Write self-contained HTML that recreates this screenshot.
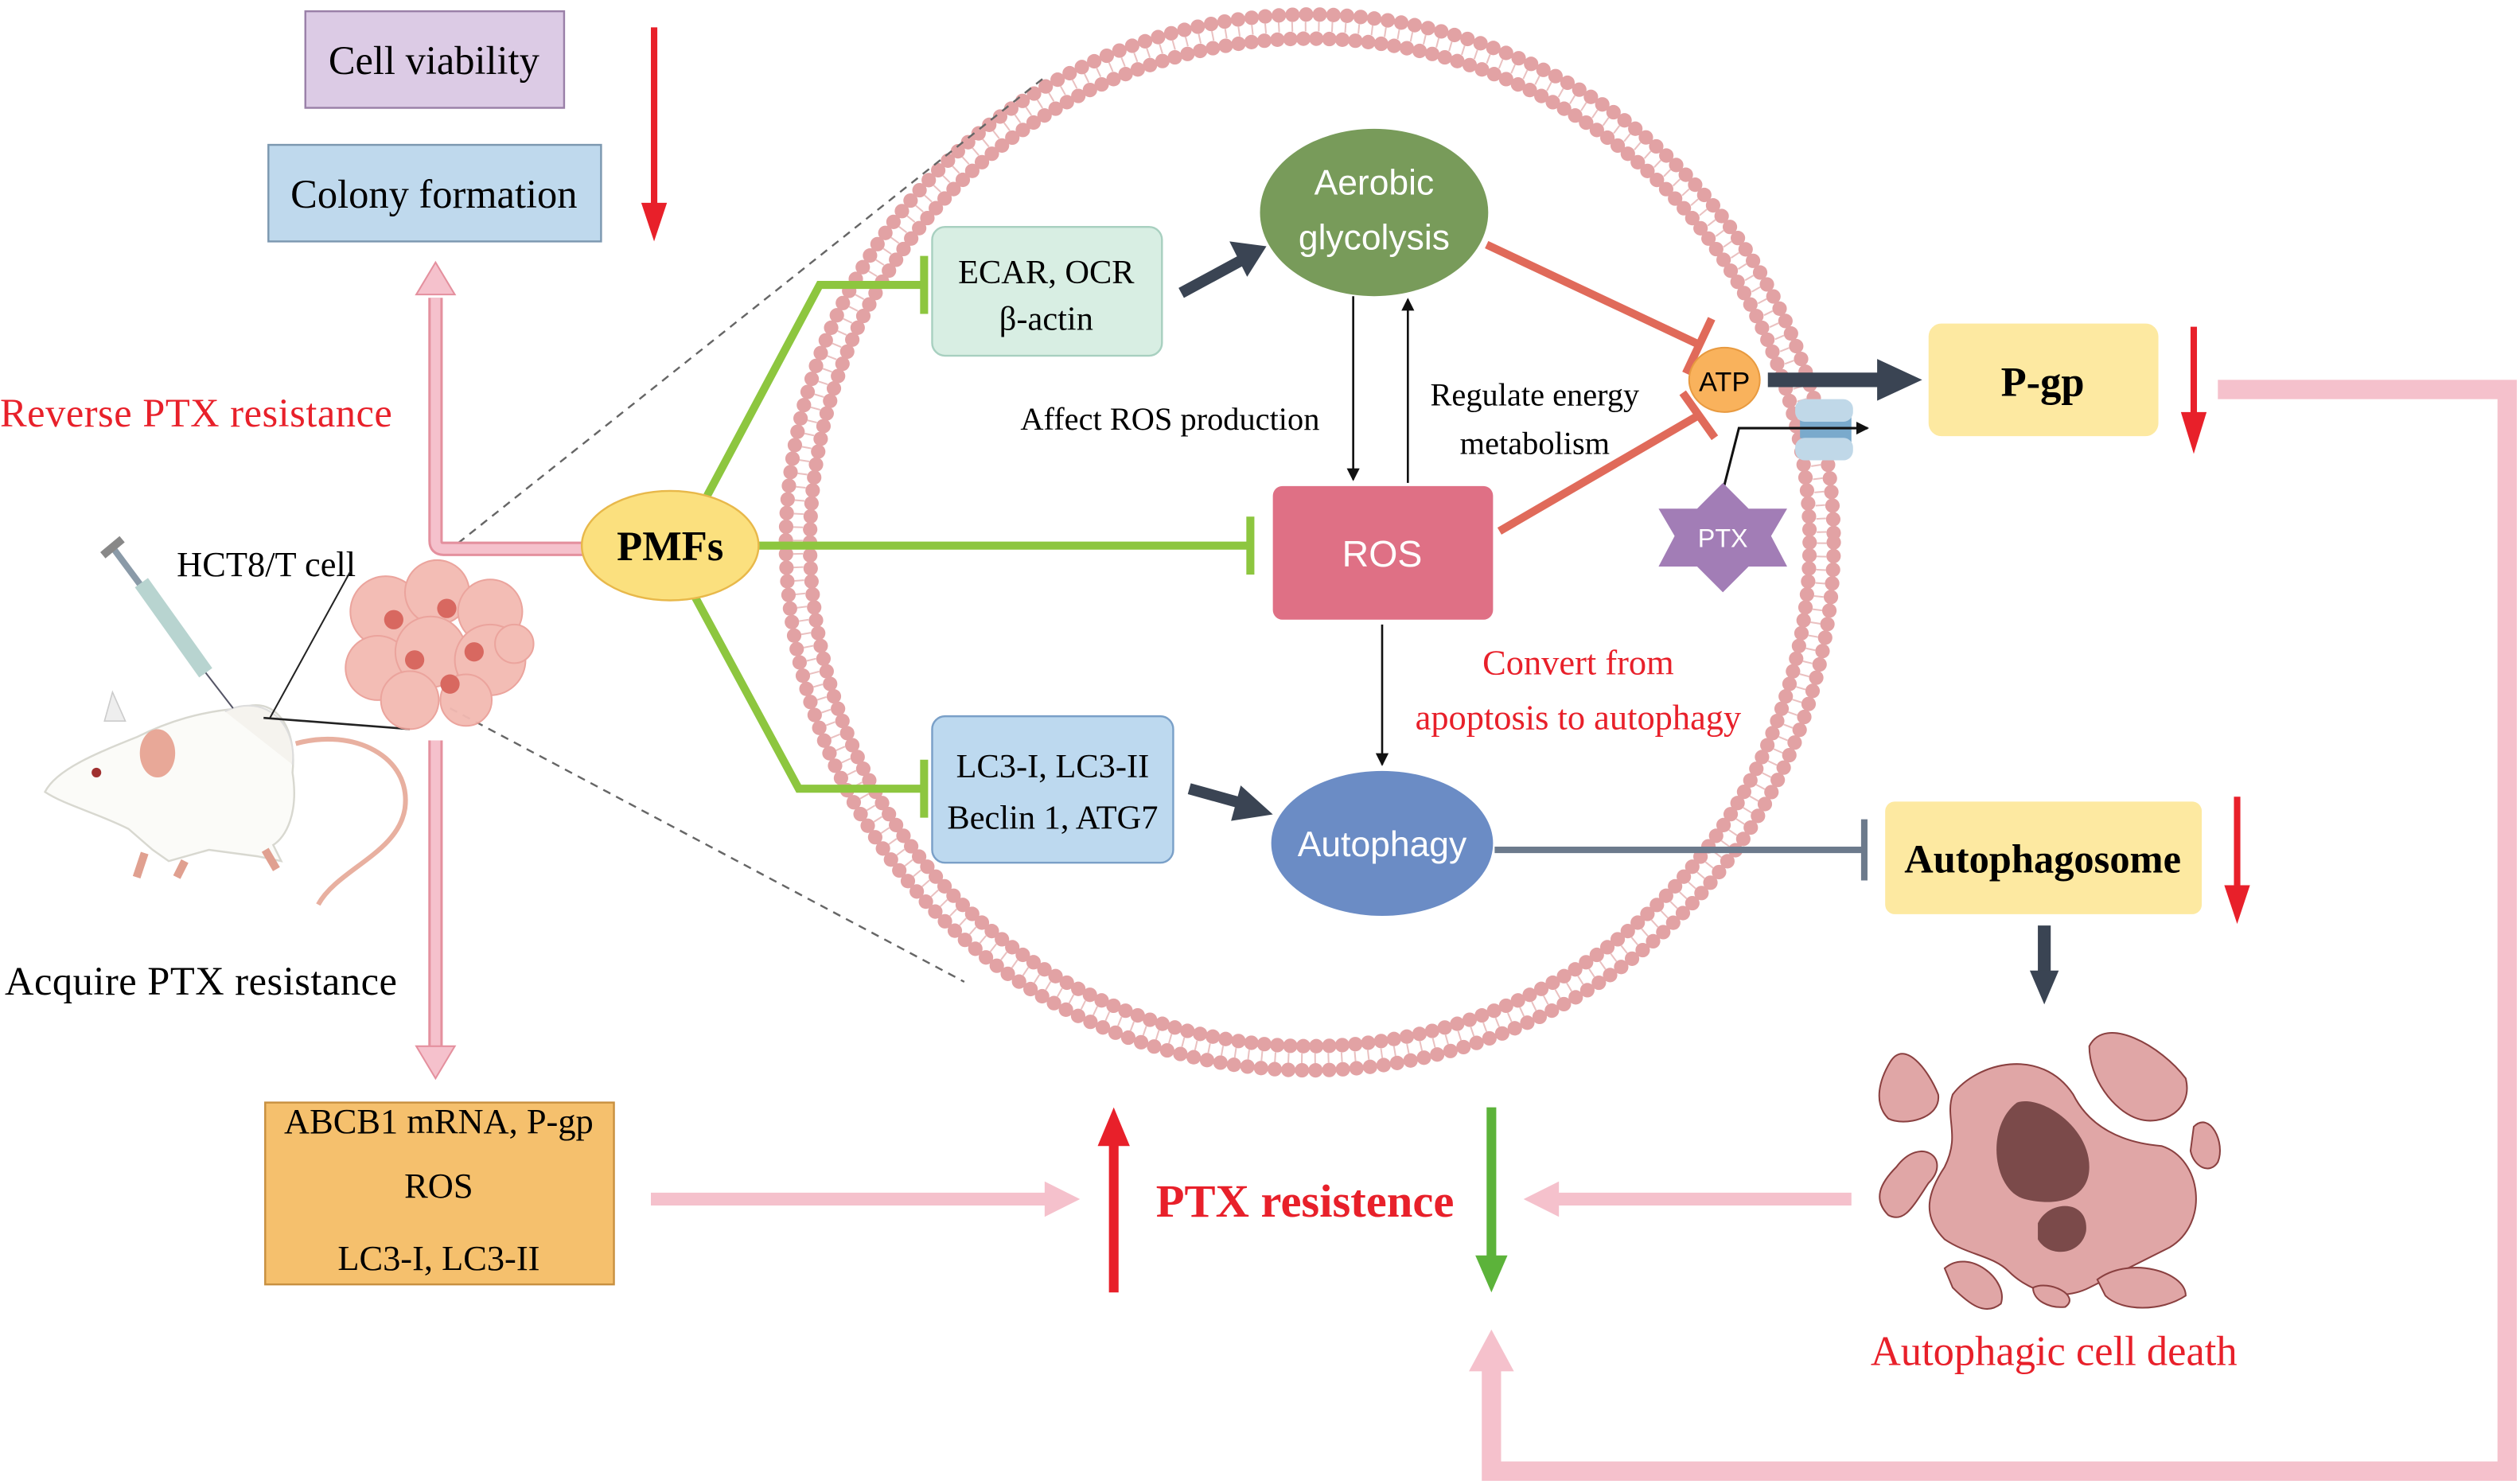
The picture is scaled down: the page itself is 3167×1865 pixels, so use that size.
<!DOCTYPE html>
<html><head><meta charset="utf-8"><style>
html,body{margin:0;padding:0;background:#fff}
svg{display:block}
text{font-family:"Liberation Serif",serif}
.s{font-family:"Liberation Sans",sans-serif}
</style></head><body>
<svg width="3167" height="1865" viewBox="0 0 1568 922" preserveAspectRatio="none" xmlns="http://www.w3.org/2000/svg">
<defs>
<marker id="ab" markerWidth="8" markerHeight="8" refX="7" refY="4" orient="auto" markerUnits="userSpaceOnUse"><path d="M0,0 L8,4 L0,8 Z" fill="#111"/></marker>
</defs>
<rect width="1568" height="922" fill="#fff"/>

<!-- membrane -->
<ellipse cx="815" cy="337" rx="326" ry="328" fill="none" stroke="#e2a2a4" stroke-width="9" stroke-dasharray="0 8.5" stroke-linecap="round"/>
<ellipse cx="815" cy="337" rx="311" ry="313" fill="none" stroke="#e2a2a4" stroke-width="9" stroke-dasharray="0 8.1" stroke-linecap="round"/>
<ellipse cx="815" cy="337" rx="318.5" ry="320.5" fill="none" stroke="#eac0c0" stroke-width="6" stroke-dasharray="1 7.3"/>

<!-- dashed zoom lines -->
<line x1="278" y1="343" x2="650" y2="48" stroke="#666" stroke-width="1.2" stroke-dasharray="5 4"/>
<line x1="280" y1="440" x2="600" y2="610" stroke="#666" stroke-width="1.2" stroke-dasharray="5 4"/>

<!-- top left boxes -->
<rect x="190" y="7" width="161" height="60" fill="#dccbe5" stroke="#9a80a8" stroke-width="1.2"/>
<text x="270" y="46" font-size="25" text-anchor="middle">Cell viability</text>
<rect x="167" y="90" width="207" height="60" fill="#bfd9ed" stroke="#7c98b0" stroke-width="1.2"/>
<text x="270" y="129" font-size="25" text-anchor="middle">Colony formation</text>
<line x1="407" y1="17" x2="407" y2="130" stroke="#e8202a" stroke-width="4"/>
<path d="M399,126 L415,126 L407,150 Z" fill="#e8202a"/>

<!-- pink L arrow up -->
<path d="M271,185 L271,336 Q271,341 276,341 L366,341" fill="none" stroke="#e4909e" stroke-width="9"/>
<path d="M271,185 L271,336 Q271,341 276,341 L366,341" fill="none" stroke="#f5c1cc" stroke-width="6"/>
<path d="M259,183 L283,183 L271,163 Z" fill="#f5c1cc" stroke="#e4909e" stroke-width="1"/>
<text x="0" y="265" font-size="25" fill="#e8202a" textLength="244">Reverse PTX resistance</text>

<!-- mouse -->
<path d="M184,462 C220,452 256,470 252,502 C248,530 210,540 198,562" fill="none" stroke="#e8b0a0" stroke-width="3"/>
<path d="M150,440 C170,432 185,450 182,480 C186,505 178,520 170,525 L175,535 L160,532 L130,528 L105,535 L95,528 L80,515 C60,505 40,500 28,492 C35,478 60,468 85,458 C105,448 125,442 150,440 Z" fill="#fbfbf8" stroke="#d8d8d0" stroke-width="1.2"/>
<path d="M140,442 C165,430 185,450 182,475" fill="#f5f3ee" stroke="#ddd"/>
<ellipse cx="98" cy="468" rx="11" ry="15" fill="#e8a898"/>
<path d="M65,448 L70,430 L78,448 Z" fill="#eee" stroke="#ccc" stroke-width="0.8"/>
<circle cx="60" cy="480" r="3" fill="#a03030"/>
<path d="M90,530 L85,545 M115,535 L110,545 M165,528 L172,540" stroke="#e0a090" stroke-width="5"/>
<text x="110" y="358" font-size="22">HCT8/T cell</text>
<path d="M70,340 L128,418" stroke="#8a9aa8" stroke-width="4"/>
<path d="M88,362 L128,418" stroke="#b8d4d0" stroke-width="10"/>
<path d="M64,345 L76,335" stroke="#888" stroke-width="5"/>
<line x1="128" y1="418" x2="145" y2="440" stroke="#556" stroke-width="1"/>
<line x1="168" y1="446" x2="218" y2="355" stroke="#222" stroke-width="1"/>
<line x1="164" y1="446" x2="255" y2="453" stroke="#222" stroke-width="1.3"/>
<!-- tumor -->
<g fill="#f3bab2" stroke="#eaa098" stroke-width="1" opacity="0.95">
<circle cx="240" cy="380" r="22"/><circle cx="272" cy="368" r="20"/><circle cx="305" cy="380" r="20"/>
<circle cx="235" cy="415" r="20"/><circle cx="268" cy="405" r="22"/><circle cx="305" cy="410" r="22"/><circle cx="255" cy="435" r="18"/><circle cx="290" cy="435" r="16"/><circle cx="320" cy="400" r="12"/>
</g>
<g fill="#d86860"><circle cx="245" cy="385" r="6"/><circle cx="278" cy="378" r="6"/><circle cx="258" cy="410" r="6"/><circle cx="295" cy="405" r="6"/><circle cx="280" cy="425" r="6"/></g>

<text x="3" y="618" font-size="25" textLength="244">Acquire PTX resistance</text>

<!-- pink down arrow -->
<line x1="271" y1="460" x2="271" y2="652" stroke="#e4909e" stroke-width="9"/>
<line x1="271" y1="460" x2="271" y2="652" stroke="#f5c1cc" stroke-width="6"/>
<path d="M259,650 L283,650 L271,670 Z" fill="#f5c1cc" stroke="#e4909e" stroke-width="1"/>

<!-- ABCB1 box -->
<rect x="165" y="685" width="217" height="113" fill="#f5c06d" stroke="#c89040" stroke-width="1.2"/>
<text x="273" y="704" font-size="22" text-anchor="middle">ABCB1 mRNA, P-gp</text>
<text x="273" y="744" font-size="22" text-anchor="middle">ROS</text>
<text x="273" y="789" font-size="22" text-anchor="middle">LC3-I, LC3-II</text>

<!-- bottom pink arrows -->
<line x1="405" y1="745" x2="652" y2="745" stroke="#f5c1cc" stroke-width="8"/>
<path d="M650,734 L672,745 L650,756 Z" fill="#f5c1cc"/>
<line x1="1152" y1="745" x2="968" y2="745" stroke="#f5c1cc" stroke-width="8"/>
<path d="M970,734 L948,745 L970,756 Z" fill="#f5c1cc"/>
<line x1="693" y1="803" x2="693" y2="710" stroke="#e8202a" stroke-width="6"/>
<path d="M683,712 L703,712 L693,688 Z" fill="#e8202a"/>
<text x="812" y="756" font-size="29" font-weight="bold" fill="#e8202a" text-anchor="middle">PTX resistence</text>
<line x1="928" y1="688" x2="928" y2="782" stroke="#5cb33a" stroke-width="6"/>
<path d="M918,780 L938,780 L928,803 Z" fill="#5cb33a"/>

<!-- big loop -->
<path d="M1380,242 L1560,242 L1560,914 L928,914 L928,850" fill="none" stroke="#f5c1cc" stroke-width="12"/>
<path d="M914,852 L942,852 L928,826 Z" fill="#f5c1cc"/>

<!-- PMFs green -->
<g stroke="#8dc63f" stroke-width="5" fill="none">
<polyline points="440,308 510,177 575,177"/>
<line x1="575" y1="159" x2="575" y2="195"/>
<line x1="470" y1="339" x2="778" y2="339"/>
<line x1="778" y1="321" x2="778" y2="357"/>
<polyline points="432,370 497,490 575,490"/>
<line x1="575" y1="472" x2="575" y2="508"/>
</g>
<ellipse cx="417" cy="339" rx="55" ry="34" fill="#fbe07e" stroke="#e8b84a" stroke-width="1.2"/>
<text x="417" y="348" font-size="26" font-weight="bold" text-anchor="middle">PMFs</text>

<!-- boxes -->
<rect x="580" y="141" width="143" height="80" rx="8" fill="#d8eee3" stroke="#a8d0c0" stroke-width="1.2"/>
<text x="651" y="176" font-size="21" text-anchor="middle">ECAR, OCR</text>
<text x="651" y="205" font-size="21" text-anchor="middle">β-actin</text>
<rect x="580" y="445" width="150" height="91" rx="8" fill="#bdd9ef" stroke="#7aa0c8" stroke-width="1.2"/>
<text x="655" y="483" font-size="21" text-anchor="middle">LC3-I, LC3-II</text>
<text x="655" y="515" font-size="21" text-anchor="middle">Beclin 1, ATG7</text>

<!-- dark arrows -->
<line x1="735" y1="182" x2="772" y2="162" stroke="#3a4453" stroke-width="7"/>
<path d="M765,150 L788,153 L776,172 Z" fill="#3a4453"/>
<line x1="740" y1="490" x2="776" y2="500" stroke="#3a4453" stroke-width="7"/>
<path d="M772,488 L792,506 L766,510 Z" fill="#3a4453"/>

<!-- nodes -->
<ellipse cx="855" cy="132" rx="71" ry="52" fill="#789b5a"/>
<text class="s" x="855" y="121" font-size="22" fill="#fff" text-anchor="middle">Aerobic</text>
<text class="s" x="855" y="155" font-size="22" fill="#fff" text-anchor="middle">glycolysis</text>
<line x1="842" y1="184" x2="842" y2="298" stroke="#111" stroke-width="1.3" marker-end="url(#ab)"/>
<line x1="876" y1="300" x2="876" y2="186" stroke="#111" stroke-width="1.3" marker-end="url(#ab)"/>
<rect x="792" y="302" width="137" height="83" rx="6" fill="#df7085"/>
<text class="s" x="860" y="352" font-size="23" fill="#fff" text-anchor="middle">ROS</text>
<line x1="860" y1="388" x2="860" y2="475" stroke="#111" stroke-width="1.3" marker-end="url(#ab)"/>
<ellipse cx="860" cy="524" rx="69" ry="45" fill="#6b8cc5"/>
<text class="s" x="860" y="532" font-size="22" fill="#fff" text-anchor="middle">Autophagy</text>
<text x="728" y="267" font-size="20" text-anchor="middle">Affect ROS production</text>
<text x="955" y="252" font-size="20" text-anchor="middle">Regulate energy</text>
<text x="955" y="282" font-size="20" text-anchor="middle">metabolism</text>
<text x="982" y="419" font-size="22" fill="#e8202a" text-anchor="middle">Convert from</text>
<text x="982" y="453" font-size="22" fill="#e8202a" text-anchor="middle">apoptosis to autophagy</text>

<!-- salmon inhibitions -->
<g stroke="#e06a5a" stroke-width="5">
<line x1="925" y1="152" x2="1057" y2="214"/>
<line x1="1049" y1="232" x2="1065" y2="198"/>
<line x1="933" y1="330" x2="1057" y2="258"/>
<line x1="1047" y1="244" x2="1067" y2="272"/>
</g>
<ellipse cx="1073" cy="236" rx="22" ry="20" fill="#f9b25c" stroke="#e89a40"/>
<text class="s" x="1073" y="243" font-size="17" text-anchor="middle">ATP</text>
<line x1="1100" y1="236" x2="1172" y2="236" stroke="#3a4453" stroke-width="9"/>
<path d="M1168,223 L1196,236 L1168,249 Z" fill="#3a4453"/>
<!-- transporter -->
<path d="M1120,260 L1152,252 L1152,280 L1120,272 Z" fill="#7aaacc"/>
<rect x="1117" y="248" width="36" height="14" rx="6" fill="#c0d8e8"/>
<rect x="1117" y="272" width="36" height="14" rx="6" fill="#c0d8e8"/>
<polyline points="1072,305 1082,266 1162,266" fill="none" stroke="#111" stroke-width="1.5" marker-end="url(#ab)"/>
<!-- PTX star -->
<polygon points="1072,300 1088,316 1112,316 1102,333 1112,352 1088,352 1072,368 1056,352 1032,352 1042,333 1032,316 1056,316" fill="#a27db6"/>
<text class="s" x="1072" y="340" font-size="16" fill="#fff" text-anchor="middle">PTX</text>

<!-- P-gp -->
<rect x="1200" y="201" width="143" height="70" rx="8" fill="#fde9a1"/>
<text x="1271" y="246" font-size="26" font-weight="bold" text-anchor="middle">P-gp</text>
<line x1="1365" y1="203" x2="1365" y2="260" stroke="#e8202a" stroke-width="4"/>
<path d="M1357,256 L1373,256 L1365,282 Z" fill="#e8202a"/>

<!-- Autophagy inhibition -->
<line x1="930" y1="528" x2="1160" y2="528" stroke="#6c7a8c" stroke-width="4"/>
<line x1="1160" y1="509" x2="1160" y2="547" stroke="#6c7a8c" stroke-width="4"/>
<rect x="1173" y="498" width="197" height="70" rx="6" fill="#fde9a1"/>
<text x="1271" y="542" font-size="25" font-weight="bold" text-anchor="middle">Autophagosome</text>
<line x1="1392" y1="495" x2="1392" y2="552" stroke="#e8202a" stroke-width="4"/>
<path d="M1384,550 L1400,550 L1392,574 Z" fill="#e8202a"/>
<line x1="1272" y1="575" x2="1272" y2="605" stroke="#3a4453" stroke-width="8"/>
<path d="M1263,603 L1281,603 L1272,624 Z" fill="#3a4453"/>

<!-- dead cell -->
<g fill="#e0a6a6" stroke="#8a4040" stroke-width="1">
<path d="M1215,680 C1230,660 1270,650 1290,680 C1300,700 1320,710 1345,712 C1370,720 1375,760 1350,775 C1330,785 1320,790 1300,800 C1280,810 1260,800 1250,790 C1240,780 1225,780 1210,770 C1195,755 1200,740 1210,725 C1220,705 1210,695 1215,680 Z"/>
<path d="M1176,660 C1185,645 1200,665 1206,680 C1208,695 1185,700 1175,695 C1165,685 1170,670 1176,660 Z"/>
<path d="M1300,650 C1310,630 1345,650 1360,670 C1365,690 1345,700 1330,695 C1315,690 1300,670 1300,650 Z"/>
<path d="M1180,725 C1195,705 1215,720 1200,735 C1190,750 1185,760 1175,755 C1165,745 1170,735 1180,725 Z"/>
<path d="M1365,700 C1375,690 1385,710 1380,722 C1375,730 1365,725 1363,715 Z"/>
<path d="M1210,788 C1225,775 1250,795 1245,810 C1235,818 1225,810 1215,800 Z"/>
<path d="M1305,795 C1325,780 1360,790 1360,805 C1345,815 1320,815 1310,805 Z"/>
<path d="M1265,800 C1275,795 1295,805 1285,812 C1275,813 1265,808 1265,800 Z"/>
</g>
<path d="M1255,685 C1270,680 1300,700 1300,725 C1300,745 1280,750 1260,745 C1240,740 1235,700 1255,685 Z" fill="#7b4a4a"/>
<path d="M1268,760 C1275,745 1300,745 1298,765 C1295,780 1275,782 1268,770 Z" fill="#7b4a4a"/>
<text x="1278" y="848" font-size="26" fill="#e8202a" text-anchor="middle">Autophagic cell death</text>
</svg>
</body></html>
